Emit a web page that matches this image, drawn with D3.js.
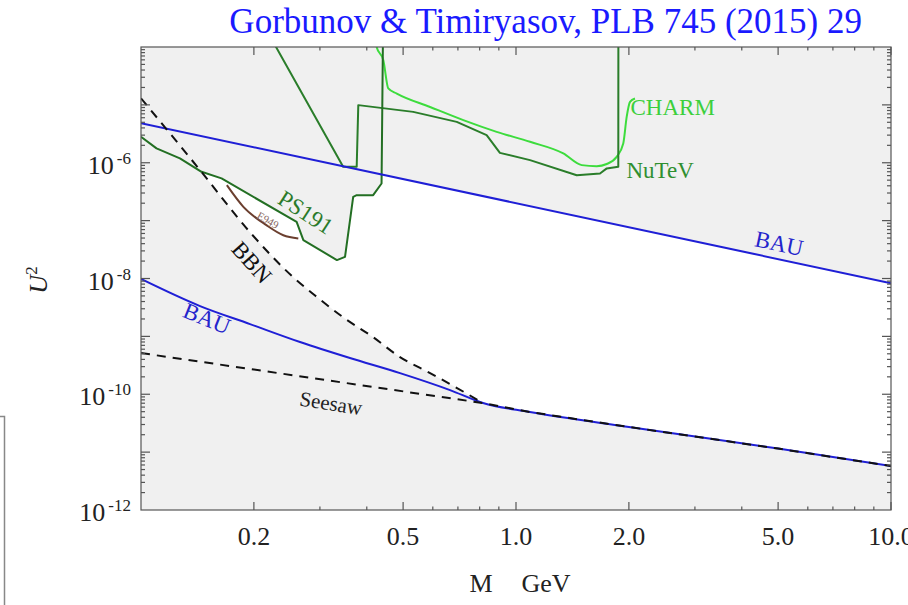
<!DOCTYPE html>
<html>
<head>
<meta charset="utf-8">
<script src="https://cdn.jsdelivr.net/npm/d3@7"></script>
<style>
body { margin: 0; background: #fff; }
svg { display: block; font-family: "Liberation Serif", "Times New Roman", serif; }
</style>
</head>
<body>
<svg width="908" height="605"></svg>
<script>
// axis ticks
const massTicks = [0.2, 0.5, 1, 2, 5, 10];
const massTickLabels = ['0.2', '0.5', '1.0', '2.0', '5.0', '10.0'];
const u2Ticks = [1e-12, 1e-10, 1e-8, 1e-6];
const u2TickExps = ['-12', '-10', '-8', '-6'];

// curves, [M in GeV, U^2]
const bauUpper = [[0.1, 4.83e-6], [10, 8.3e-9]];
const bauLower = [[0.1, 9.8e-9], [0.1437, 3.33e-9], [0.1953, 1.63e-9], [0.2655, 7.98e-10], [0.3607, 4.22e-10],
                  [0.4905, 2.32e-10], [0.667, 1.18e-10], [0.8166, 7.05e-11], [1.089, 4.93e-11], [2, 2.72e-11],
                  [5, 1.15e-11], [10, 5.75e-12]];
const seesaw = [[0.1, 5.15e-10], [0.8166, 7.05e-11], [1.089, 4.93e-11], [2, 2.72e-11], [5, 1.15e-11], [10, 5.75e-12]];
const bbn = [[0.1, 1.3e-5], [0.1437, 7.45e-7], [0.1953, 6.3e-8], [0.2543, 1.06e-8], [0.2946, 4.78e-9], [0.3457, 2.15e-9],
             [0.4157, 9.7e-10], [0.4905, 4.38e-10], [0.59, 2.32e-10], [0.6963, 1.28e-10], [0.8166, 7.05e-11]];
const ps191 = [[0.1, 2.8e-6], [0.110, 1.77e-6], [0.127, 1.19e-6], [0.145, 6.97e-7], [0.164, 5.36e-7], [0.260, 9.5e-8],
               [0.271, 4.6e-8], [0.333, 2.08e-8], [0.350, 2.37e-8], [0.368, 2.58e-7], [0.376, 2.75e-7], [0.416, 2.75e-7],
               [0.438, 4.38e-7], [0.442, 2e-4]];
const e949 = [[0.1694, 4.1e-7], [0.1875, 1.73e-7], [0.216, 8.35e-8], [0.2396, 5.6e-8], [0.2627, 4.93e-8]];
const nutev = [[0.224, 1.3e-4], [0.346, 8.5e-7], [0.376, 8.5e-7], [0.3797, 9.9e-6], [0.532, 7.57e-6], [0.695, 5.08e-6],
               [0.835, 3.0e-6], [0.906, 1.48e-6], [1.09, 1.11e-6], [1.452, 6.1e-7], [1.675, 6.53e-7], [1.746, 7.98e-7],
               [1.874, 8.5e-7], [1.875, 2e-4]];
const charm = [[0.418, 2e-4], [0.425, 1e-4], [0.4428, 5.9e-5], [0.4565, 1.92e-5], [0.481, 1.57e-5], [0.590, 9.2e-6],
               [0.7236, 5.45e-6], [0.888, 3.42e-6], [1.09, 2.3e-6], [1.337, 1.45e-6], [1.497, 9.1e-7], [1.641, 8.7e-7],
               [1.746, 9.5e-7], [1.855, 1.26e-6], [1.932, 2.15e-6], [1.973, 6.2e-6], [2.014, 1.13e-5], [2.076, 1.29e-5]];

// curve labels: text, M, U^2, rotation, colour, size, anchor
const labels = [
  ['PS191', 0.275, 1.4e-7, 33, '#2a7a2a', 23, 'middle'],
  ['E949', 0.218, 1.02e-7, 30, '#8a6a66', 11, 'middle'],
  ['BBN', 0.1977, 1.92e-8, 48, '#111', 23, 'middle'],
  ['BAU', 0.150, 2.07e-9, 22, '#2424cc', 23, 'middle'],
  ['Seesaw', 0.321, 7.05e-11, 9, '#222', 21, 'middle'],
  ['BAU', 5.03, 4.08e-8, 12, '#2424cc', 23, 'middle'],
  ['CHARM', 2.02, 6.6e-6, 0, '#3ccf3c', 23, 'start'],
  ['NuTeV', 1.97, 5.4e-7, 0, '#2f8f2f', 23, 'start']
];

const svg = d3.select('svg');
const x = d3.scaleLog().domain([0.1, 10]).range([141, 891]);
const y = d3.scaleLog().domain([1e-12, 1e-4]).range([510, 47]);
const yTop = y.range()[1], yBottom = y.range()[0];
const xLeft = x.range()[0], xRight = x.range()[1];

svg.append('clipPath').attr('id', 'plot')
  .append('rect')
  .attr('x', xLeft).attr('y', yTop)
  .attr('width', xRight - xLeft).attr('height', yBottom - yTop);

const plot = svg.append('g').attr('clip-path', 'url(#plot)');
plot.append('rect')
  .attr('x', xLeft).attr('y', yTop)
  .attr('width', xRight - xLeft).attr('height', yBottom - yTop)
  .attr('fill', '#fff');

// smooth curves vs. the ones with sharp steps
const smooth = d3.curveMonotoneX;
const sharp = d3.curveLinear;

// excluded regions in grey
const grey = '#f0f0f0';
const above = c => d3.area().curve(c).x(d => x(d[0])).y0(yTop - 5).y1(d => y(d[1]));
const below = c => d3.area().curve(c).x(d => x(d[0])).y0(yBottom + 5).y1(d => y(d[1]));
[[bauUpper, sharp], [ps191, sharp], [nutev, sharp], [charm, smooth]].forEach(([data, c]) => {
  plot.append('path').attr('d', above(c)(data)).attr('fill', grey);
});
[[bbn, smooth], [bauLower, smooth], [seesaw, sharp]].forEach(([data, c]) => {
  plot.append('path').attr('d', below(c)(data)).attr('fill', grey);
});

const draw = (data, c, colour, width, dash) => plot.append('path')
  .attr('d', d3.line().curve(c).x(d => x(d[0])).y(d => y(d[1]))(data))
  .attr('fill', 'none')
  .attr('stroke', colour)
  .attr('stroke-width', width)
  .attr('stroke-linejoin', 'round')
  .attr('stroke-dasharray', dash || null);

draw(charm, smooth, '#3ddc3d', 2);
draw(nutev, sharp, '#2a7d2a', 2);
draw(ps191, sharp, '#236f23', 2);
draw(e949, smooth, '#6b3f2f', 2);
draw(bauUpper, sharp, '#1f1fd6', 2);
draw(bauLower, smooth, '#1f1fd6', 2);
draw(seesaw, sharp, '#111', 2, '9,7');
draw(bbn, smooth, '#111', 2, '9,7');

labels.forEach(([t, m, u, rot, col, size, anchor]) => {
  svg.append('text')
    .attr('transform', `translate(${x(m)},${y(u)}) rotate(${rot})`)
    .attr('text-anchor', anchor)
    .attr('dy', anchor === 'middle' ? '0.35em' : 0)
    .attr('fill', col)
    .attr('font-size', size)
    .text(t);
});

// frame and ticks
const frame = svg.append('g').attr('stroke', '#555').attr('stroke-width', 1.2);
frame.append('rect')
  .attr('x', xLeft).attr('y', yTop)
  .attr('width', xRight - xLeft).attr('height', yBottom - yTop)
  .attr('fill', 'none');

const xMinor = [];
[0.1, 1].forEach(d => { for (let k = 2; k <= 9; k++) xMinor.push(k * d); });
const xAll = xMinor.concat([1, 10]).filter(v => v > 0.1);
xAll.forEach(v => {
  const len = massTicks.includes(v) ? 8 : 3.5;
  frame.append('line').attr('x1', x(v)).attr('x2', x(v)).attr('y1', yBottom).attr('y2', yBottom - len);
  frame.append('line').attr('x1', x(v)).attr('x2', x(v)).attr('y1', yTop).attr('y2', yTop + len);
});

const yAll = [];
for (let e = -12; e < -4; e++) {
  yAll.push([Math.pow(10, e), 9]);
  for (let k = 2; k <= 9; k++) yAll.push([k * Math.pow(10, e), 4]);
}
yAll.filter(d => d[0] > 1e-12).forEach(([v, len]) => {
  frame.append('line').attr('x1', xLeft).attr('x2', xLeft + len).attr('y1', y(v)).attr('y2', y(v));
  frame.append('line').attr('x1', xRight).attr('x2', xRight - len).attr('y1', y(v)).attr('y2', y(v));
});

svg.selectAll('.xlab')
  .data(massTicks)
  .enter()
  .append('text')
  .attr('x', d => x(d))
  .attr('y', 545)
  .attr('text-anchor', 'middle')
  .attr('font-size', 26)
  .attr('fill', '#222')
  .text((d, i) => massTickLabels[i]);

u2Ticks.forEach((v, i) => {
  const t = svg.append('text')
    .attr('x', 131)
    .attr('y', y(v) + 11)
    .attr('text-anchor', 'end')
    .attr('font-size', 26)
    .attr('fill', '#222');
  t.append('tspan').text('10');
  t.append('tspan').attr('dx', 3).attr('dy', -10).attr('font-size', 17).text(u2TickExps[i]);
});

// axis titles
svg.append('text')
  .attr('x', 481).attr('y', 592)
  .attr('text-anchor', 'middle')
  .attr('font-size', 26).attr('fill', '#222')
  .text('M');
svg.append('text')
  .attr('x', 546).attr('y', 592)
  .attr('text-anchor', 'middle')
  .attr('font-size', 26).attr('fill', '#222')
  .text('GeV');

const ulab = svg.append('text')
  .attr('transform', 'translate(47,280) rotate(-90)')
  .attr('text-anchor', 'middle')
  .attr('font-size', 26).attr('fill', '#222');
ulab.append('tspan').attr('font-style', 'italic').text('U');
ulab.append('tspan').attr('dy', -10).attr('font-size', 17).text('2');

svg.append('text')
  .attr('x', 862).attr('y', 33)
  .attr('text-anchor', 'end')
  .attr('font-size', 35)
  .attr('fill', '#1a1aff')
  .text('Gorbunov & Timiryasov, PLB 745 (2015) 29');

// edge of the neighbouring panel
svg.append('path')
  .attr('d', 'M0,416.5H4.5V605')
  .attr('fill', 'none')
  .attr('stroke', '#888')
  .attr('stroke-width', 1.5);
</script>
</body>
</html>
